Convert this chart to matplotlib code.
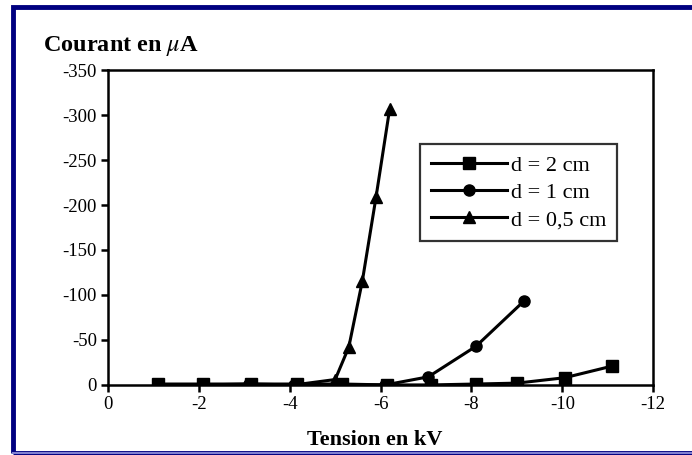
import matplotlib
matplotlib.use('Agg')
import matplotlib.pyplot as plt
from matplotlib.patches import Rectangle
from matplotlib.lines import Line2D

plt.rcParams['font.family'] = ['Liberation Serif', 'DejaVu Serif']
plt.rcParams['mathtext.fontset'] = 'stix'
plt.rcParams['axes.unicode_minus'] = False

# data (kV, uA)
x_2cm = [-1.1, -2.1, -3.15, -4.15, -5.15, -6.15, -7.1, -8.1, -9.0, -10.05, -11.1]
y_2cm = [-1, -1, -1, -1, -1, 0, 0, -1, -2, -8, -21]

x_1cm = [-1.1, -2.1, -3.1, -4.1, -5.1, -6.1, -7.05, -8.1, -9.15]
y_1cm = [0, 0, -1, 0, 0, 0, -9, -43, -93]

x_05cm = [-1.1, -2.1, -3.1, -4.1, -5.0, -5.3, -5.6, -5.9, -6.2]
y_05cm = [0, 0, 0, 0, -6, -42, -116, -209, -307]

xticks = [0, -2, -4, -6, -8, -10, -12]
yticks = [0, -50, -100, -150, -200, -250, -300, -350]

fig = plt.figure(figsize=(6.92, 4.55), dpi=100)
ax = fig.add_axes([0.156, 0.154, 0.788, 0.692])

ax.plot(x_2cm, y_2cm, color='black', lw=2.2, marker='s', ms=8, label='d = 2 cm', zorder=5)
ax.plot(x_1cm, y_1cm, color='black', lw=2.2, marker='o', ms=8, label='d = 1 cm', zorder=4)
ax.plot(x_05cm, y_05cm, color='black', lw=2.2, marker='^', ms=8, label='d = 0,5 cm', zorder=3)

ax.set_xlim(0, -12)
ax.set_ylim(0, -350)
ax.set_xticks(xticks)
ax.set_yticks(yticks)
ax.set_xticklabels([str(t) for t in xticks])
ax.set_yticklabels([str(t) for t in yticks])
ax.tick_params(direction='out', length=5, width=1.8, labelsize=13.5, pad=3)
for s in ax.spines.values():
    s.set_linewidth(1.8)

leg = ax.legend(loc='upper left', bbox_to_anchor=(0.572, 0.765), fontsize=16,
                frameon=True, fancybox=False, edgecolor='black', handlelength=3.4,
                borderpad=0.5, labelspacing=0.3, handletextpad=0.2, borderaxespad=0)
leg.get_frame().set_linewidth(1.6)

fig.text(0.062, 0.9, r'Courant en $\mu$A', fontsize=17.5, fontweight='bold', ha='left', va='center')
fig.text(0.542, 0.033, 'Tension en kV', fontsize=16, fontweight='bold', ha='center', va='center')

# blue frame of the scanned picture
fig.add_artist(Rectangle((13 / 692, 2 / 455), 700 / 692, 446 / 455, transform=fig.transFigure,
                         fill=False, edgecolor='#000080', lw=3.5))
fig.add_artist(Line2D([13 / 692, 1], [2.5 / 455, 2.5 / 455], transform=fig.transFigure,
                      color='#8080d0', lw=1.5))

fig.savefig('out.png', dpi=100)
